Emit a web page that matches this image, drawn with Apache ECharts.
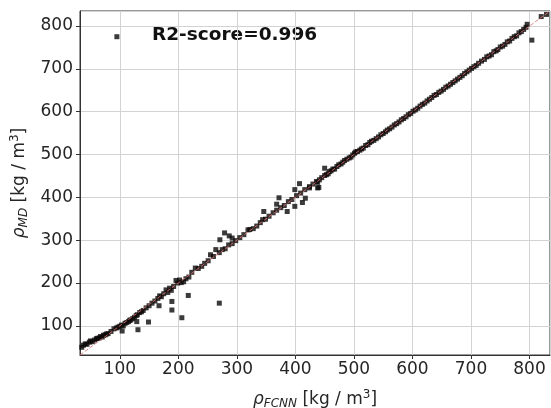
<!DOCTYPE html>
<html>
<head>
<meta charset="utf-8">
<script src="https://cdn.jsdelivr.net/npm/echarts@6/dist/echarts.min.js"></script>
<style>
html,body{margin:0;padding:0;background:#fff;}
#chart{width:551px;height:408px;}
</style>
</head>
<body>
<div id="chart"></div>
<script>
// Axis range and ticks
const axisMin = 32;
const axisMax = 835;
const r2Text = 'R2-score=0.996';

// Points close to the diagonal, low range
const fcnnLow = [35,38,41,44,48,50,53,57,60,62,65,67,70,72,75,77,80,85,90,94,97,100,103,106,109,112,115,117,119,122,125,128,130,134,137,140,145,150,155,160,165,168,171,175,179,182,185,188,192,196,199,202,205,209,213,218,223,229,234,240,245,251,255,260,264,270,275,280,286,292,298,305,312,319,322,328,334,340,344,349,355,362,368,375,381,388,394,402,409,416,424,430,436,441,445];
const mdLow   = [50,55,58,57,62,65,63,67,70,71,72,75,74,78,79,81,82,87,93,95,97,99,102,100,106,108,110,113,114,117,120,124,126,131,133,136,142,147,153,158,164,170,168,175,184,178,188,183,192,206,200,207,201,203,210,214,225,235,234,239,246,252,266,262,278,271,278,280,289,292,299,306,313,324,325,327,333,341,348,349,356,364,370,376,381,390,395,404,410,418,425,431,437,441,446];

// Points close to the diagonal, high range
const fcnnHigh = [450,453,456,458,461,464,467,471,474,478,481,484,488,492,495,498,501,503,506,510,513,516,520,524,527,530,534,538,542,546,550,554,557,561,565,569,573,577,581,585,589,593,597,601,605,609,613,617,621,625,629,633,637,641,645,649,653,657,661,665,669,673,677,681,685,689,693,697,701,705,709,713,718,723,727,731,735,739,743,746,750,754,758,762,766,770,774,778,782,786,790,794,796,820,829];
const mdHigh   = [451,453,455,460,462,466,466,472,476,478,482,486,489,492,494,499,503,506,507,510,513,515,521,523,528,531,533,537,541,546,549,553,557,560,564,569,572,576,581,584,588,593,596,601,604,608,613,617,620,625,629,633,638,640,645,648,652,657,660,664,668,672,676,680,684,689,693,697,701,705,708,713,718,722,728,730,733,740,742,745,751,753,757,763,765,771,775,777,784,787,792,797,804,822,827];

// Scattered points away from the diagonal
const fcnnOut = [95,104,131,149,129,167,189,189,206,217,270,271,279,287,292,346,368,372,386,399,399,407,412,417,424,438,438,440,450,804];
const mdOut   = [775,88,91,109,110,147,137,157,119,171,153,301,317,310,305,367,384,399,367,418,379,432,388,398,422,435,422,423,468,767];

// Identity reference line y = x
const identity = [axisMin, axisMax];

function pairs(xs, ys){ return xs.map((x,i)=>[x, ys[i]]); }

const textColor = '#262626';
const fontFam = 'DejaVu Sans';

const richName = {
  i:{fontStyle:'italic', fontSize:17, fontFamily:fontFam, color:textColor},
  sub:{fontStyle:'italic', fontSize:12, fontFamily:fontFam, color:textColor, padding:[8,0,0,0]},
  n:{fontSize:17, fontFamily:fontFam, color:textColor},
  sup:{fontSize:12, fontFamily:fontFam, color:textColor, padding:[0,0,10,0]}
};

const chart = echarts.init(document.getElementById('chart'), null, {renderer:'canvas'});
chart.setOption({
  backgroundColor:'#fff',
  animation:false,
  grid:{left:80, right:1, top:11, bottom:53, outerBoundsMode:'none', containLabel:false,
        show:true, borderColor:'#333', borderWidth:1, backgroundColor:'transparent'},
  xAxis:{
    type:'value', min:axisMin, max:axisMax, splitNumber:8,
    axisLine:{show:true, onZero:false, lineStyle:{color:'#333', width:1}},
    axisTick:{show:true, inside:false, length:4, lineStyle:{color:'#333'}},
    axisLabel:{color:textColor, fontSize:17, fontFamily:fontFam, margin:6, showMinLabel:false, showMaxLabel:false},
    splitLine:{show:true, lineStyle:{color:'#d3d3d3', width:1}},
    name:'{i|ρ}{sub|FCNN}{n| [kg / m}{sup|3}{n|]}',
    nameLocation:'middle', nameGap:34,
    nameTextStyle:{color:textColor, fontFamily:fontFam, fontSize:17, rich:richName}
  },
  yAxis:{
    type:'value', min:axisMin, max:axisMax, splitNumber:8,
    axisLine:{show:true, onZero:false, lineStyle:{color:'#333', width:1}},
    axisTick:{show:true, inside:false, length:4, lineStyle:{color:'#333'}},
    axisLabel:{color:textColor, fontSize:17, fontFamily:fontFam, margin:7, showMinLabel:false, showMaxLabel:false},
    splitLine:{show:true, lineStyle:{color:'#d3d3d3', width:1}},
    name:'{i|ρ}{sub|MD}{n| [kg / m}{sup|3}{n|]}',
    nameLocation:'middle', nameGap:46,
    nameTextStyle:{color:textColor, fontFamily:fontFam, fontSize:17, rich:richName}
  },
  graphic:[{
    type:'text', left:152, top:26,
    style:{text:r2Text, font:'bold 18.5px "DejaVu Sans"', fill:'#111'}
  }],
  series:[
    {type:'scatter', symbol:'rect', symbolSize:5, itemStyle:{color:'#0d0808'}, data:pairs(fcnnLow, mdLow), z:2},
    {type:'scatter', symbol:'rect', symbolSize:5, itemStyle:{color:'#0d0808'}, data:pairs(fcnnHigh, mdHigh), z:2},
    {type:'scatter', symbol:'rect', symbolSize:5, itemStyle:{color:'#0a0a0a'}, data:pairs(fcnnOut, mdOut), z:2},
    {type:'line', data:pairs(identity, identity), symbol:'none', z:3,
     lineStyle:{color:'#e07070', width:1, type:[4,2], opacity:0.85}}
  ]
});
</script>
</body>
</html>
